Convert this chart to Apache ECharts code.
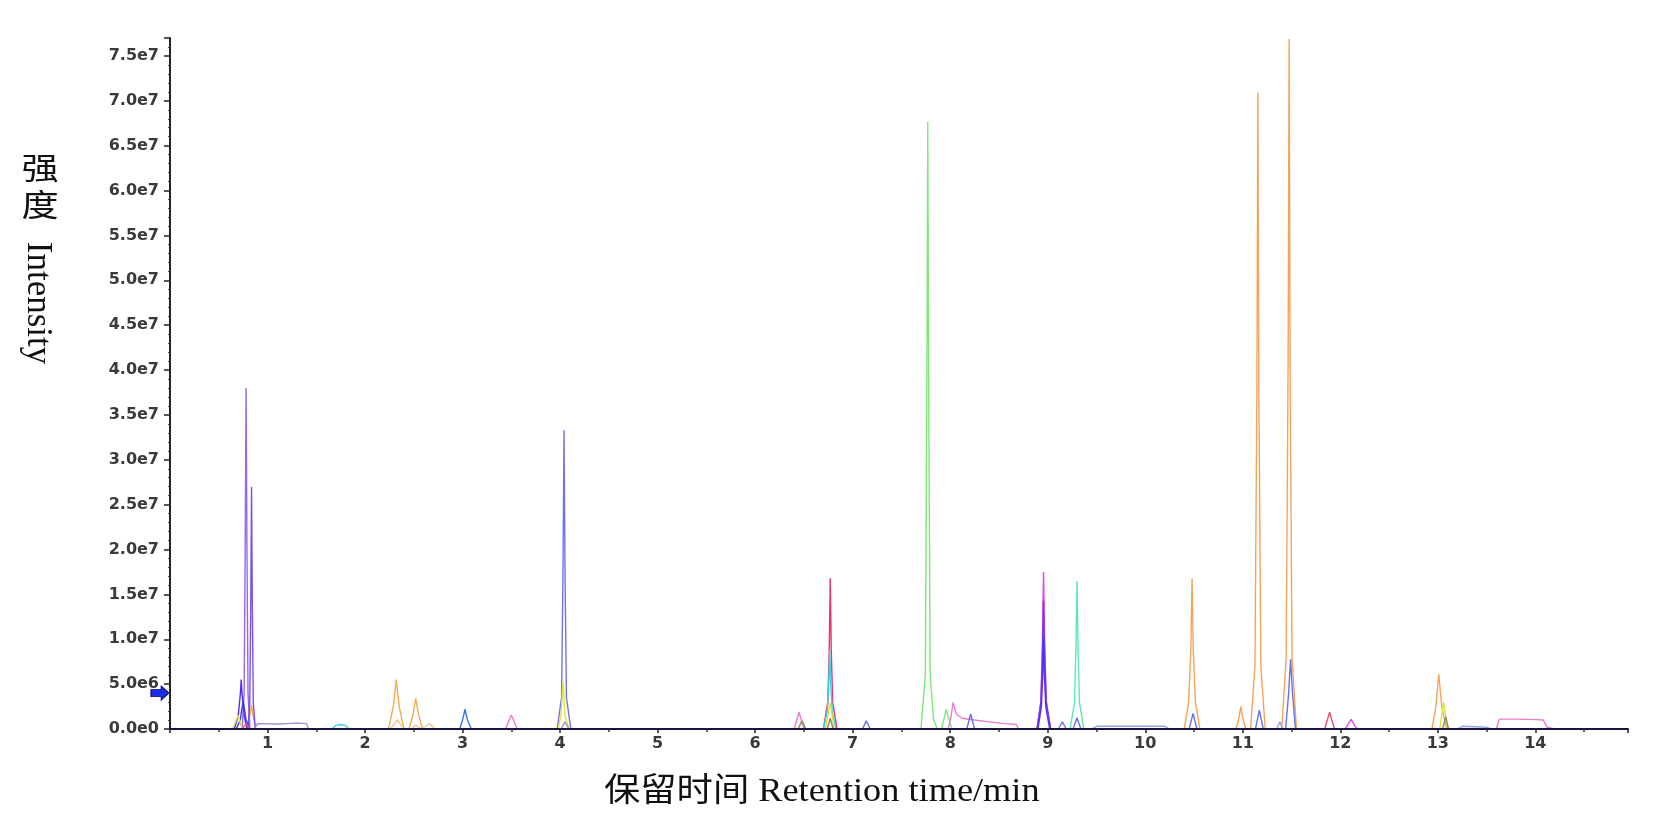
<!DOCTYPE html>
<html>
<head>
<meta charset="utf-8">
<script src="https://cdn.jsdelivr.net/npm/echarts@6/dist/echarts.min.js"></script>
<style>
html,body{margin:0;padding:0;background:#fff;}
#chart{width:1654px;height:819px;}
</style>
</head>
<body>
<div id="chart"></div>
<script>
// ---- data: retention time (min), intensity (counts) ----
const purpleA = [[0.74,0],[0.76,0.4e7],[0.771,2.0e7],[0.78,3.8e7],[0.789,2.0e7],[0.80,0.4e7],[0.82,0]];
const purpleB = [[0.80,0],[0.818,0.3e7],[0.828,1.4e7],[0.836,2.7e7],[0.844,1.4e7],[0.854,0.3e7],[0.875,0]];
const blueViolet = [[0.66,0],[0.70,1.5e6],[0.722,4.0e6],[0.73,5.5e6],[0.738,4.0e6],[0.76,1.5e6],[0.79,0],[8.90,0],[8.935,2.5e6],[8.948,6.0e6],[8.957,1.01e7],[8.966,6.0e6],[8.98,2.5e6],[9.02,0]];
const royalBlue = [[0.68,0],[0.72,1.0e6],[0.75,3.2e6],[0.78,1.0e6],[0.82,0]];
const slateBlue = [[3.97,0],[4.015,0.35e7],[4.03,1.8e7],[4.04,3.33e7],[4.05,1.8e7],[4.065,0.35e7],[4.11,0]];
const tanOrange = [[2.24,0],[2.29,2.5e6],[2.32,5.5e6],[2.35,2.5e6],[2.40,0],[2.45,0],[2.49,1.5e6],[2.52,3.4e6],[2.55,1.5e6],[2.59,0]];
const paleTan = [[2.26,0],[2.33,1.0e6],[2.40,0],[2.47,0],[2.52,0.4e6],[2.58,0],[2.60,0],[2.66,0.6e6],[2.72,0]];
const orange = [[0.79,0],[0.82,1.6e6],[0.835,2.7e6],[0.85,1.6e6],[0.88,0],[10.40,0],[10.445,0.3e7],[10.468,0.9e7],[10.48,1.68e7],[10.492,0.9e7],[10.515,0.3e7],[10.56,0],[10.93,0],[10.96,1.2e6],[10.98,2.5e6],[11.0,1.2e6],[11.03,0],[11.08,0],[11.125,0.7e7],[11.145,3.8e7],[11.155,7.09e7],[11.165,3.8e7],[11.185,0.7e7],[11.23,0],[11.40,0],[11.445,0.8e7],[11.465,4.1e7],[11.475,7.69e7],[11.485,4.1e7],[11.505,0.8e7],[11.55,0],[12.94,0],[12.98,2.5e6],[13.01,6.1e6],[13.04,2.5e6],[13.09,0]];
const green = [[7.70,0],[7.745,0.6e7],[7.76,3.6e7],[7.77,6.77e7],[7.78,3.6e7],[7.795,0.6e7],[7.83,1.0e6],[7.87,0],[7.91,0],[7.94,1.3e6],[7.96,2.2e6],[7.98,1.3e6],[8.02,0]];
const crimson = [[6.70,0],[6.745,0.3e7],[6.76,0.9e7],[6.77,1.68e7],[6.78,0.9e7],[6.795,0.3e7],[6.84,0]];
const cyan = [[1.66,0],[1.70,0.4e6],[1.75,0.5e6],[1.80,0.4e6],[1.84,0],[6.70,0],[6.74,2.0e6],[6.755,5.0e6],[6.765,8.8e6],[6.775,5.0e6],[6.79,2.0e6],[6.83,0]];
const magenta = [[8.89,0],[8.93,0.3e7],[8.946,1.0e7],[8.957,1.75e7],[8.968,1.0e7],[8.985,0.3e7],[9.03,0],[12.05,0],[12.11,1.08e6],[12.17,0]];
const violet = [[8.89,0],[8.93,0.3e7],[8.946,0.8e7],[8.957,1.43e7],[8.968,0.8e7],[8.985,0.3e7],[9.03,0]];
const aquamarine = [[9.23,0],[9.275,0.3e7],[9.29,0.95e7],[9.30,1.65e7],[9.31,0.95e7],[9.325,0.3e7],[9.37,0]];
const azure = [[2.97,0],[3.00,1.0e6],[3.025,2.2e6],[3.05,1.0e6],[3.09,0]];
const pink = [[3.44,0],[3.50,1.56e6],[3.56,0],[6.40,0],[6.45,1.86e6],[6.50,0],[7.98,0],[8.01,1.5e6],[8.03,2.97e6],[8.06,1.7e6],[8.12,1.2e6],[8.25,1.0e6],[8.40,0.8e6],[8.55,0.6e6],[8.68,0.5e6],[8.70,0],[13.60,0],[13.63,1.1e6],[13.80,1.1e6],[14.00,1.05e6],[14.08,1.0e6],[14.12,0.2e6],[14.20,0]];
const periwinkle = [[7.10,0],[7.14,0.9e6],[7.18,0],[8.17,0],[8.21,1.67e6],[8.25,0],[9.11,0],[9.15,0.8e6],[9.19,0],[9.26,0],[9.30,1.26e6],[9.34,0],[10.45,0],[10.49,1.75e6],[10.53,0],[11.13,0],[11.17,2.1e6],[11.21,0],[11.44,0],[11.47,4.0e6],[11.49,7.76e6],[11.51,4.0e6],[11.54,0]];
const red = [[0.74,0],[0.78,0.6e6],[0.82,0],[11.84,0],[11.89,1.86e6],[11.94,0]];
const yellow = [[0.64,0],[0.70,1.5e6],[0.74,0],[3.98,0],[4.01,1.5e6],[4.03,5.27e6],[4.05,1.5e6],[4.09,0],[6.72,0],[6.77,2.9e6],[6.81,0],[13.02,0],[13.06,3.0e6],[13.10,0]];
const olive = [[6.44,0],[6.48,0.9e6],[6.52,0],[6.74,0],[6.77,1.2e6],[6.80,0],[13.05,0],[13.08,1.37e6],[13.11,0]];
const lavender = [[0.86,0],[0.90,0.6e6],[1.10,0.55e6],[1.20,0.6e6],[1.30,0.65e6],[1.40,0.6e6],[1.42,0],[4.01,0],[4.05,0.8e6],[4.09,0]];
const skyBlue = [[9.45,0],[9.50,0.3e6],[10.20,0.3e6],[10.25,0],[11.35,0],[11.38,0.8e6],[11.41,0],[13.20,0],[13.25,0.3e6],[13.50,0.2e6],[13.55,0]];
const arrowMark = [[0, 4.0e6]];

const yTitleCn = '强度';
const yTitleEn = 'Intensity';
const xTitle = '保留时间 Retention time/min';

// ---- styles ----
const traces = [
  {name:'orange', data:orange, color:'#f6a35a'},
  {name:'green', data:green, color:'#7de87a'},
  {name:'purpleA', data:purpleA, color:'#9468f2'},
  {name:'purpleB', data:purpleB, color:'#7b50ee'},
  {name:'slateBlue', data:slateBlue, color:'#7272ee'},
  {name:'tanOrange', data:tanOrange, color:'#f1ac55'},
  {name:'paleTan', data:paleTan, color:'#f3c99c'},
  {name:'crimson', data:crimson, color:'#e83470'},
  {name:'cyan', data:cyan, color:'#35d6e2'},
  {name:'magenta', data:magenta, color:'#dc48ee'},
  {name:'violet', data:violet, color:'#7636ec'},
  {name:'blueViolet', data:blueViolet, color:'#5530ee'},
  {name:'royalBlue', data:royalBlue, color:'#3c3cf2'},
  {name:'aquamarine', data:aquamarine, color:'#5fe6b8'},
  {name:'azure', data:azure, color:'#3d74e6'},
  {name:'pink', data:pink, color:'#ec7ccc'},
  {name:'periwinkle', data:periwinkle, color:'#6a72e8'},
  {name:'red', data:red, color:'#f0506e'},
  {name:'yellow', data:yellow, color:'#e2e23e'},
  {name:'olive', data:olive, color:'#8c8c5c'},
  {name:'lavender', data:lavender, color:'#a08fd6'},
  {name:'skyBlue', data:skyBlue, color:'#8ea6f0'}
];

function sciLabel(v){
  if (v === 0) return '0.0e0';
  const e = Math.floor(Math.log10(v) + 1e-9);
  const m = v / Math.pow(10, e);
  return m.toFixed(1) + 'e' + e;
}

const series = traces.map(t => ({
  name: t.name, type: 'line', data: t.data, showSymbol: false, symbol: 'none',
  lineStyle: {color: t.color, width: 1.4}, itemStyle: {color: t.color},
  z: 2, silent: true
}));
series.push({
  name: 'marker', type: 'line', data: [], symbol: 'none', silent: true,
  markPoint: {
    silent: true,
    symbol: 'path://M0,3 L8,3 L8,0 L14,6 L8,12 L8,9 L0,9 Z',
    symbolSize: [18, 14],
    symbolOffset: [-10, 0],
    itemStyle: {color: '#1a2fe6', borderColor: '#0a0a80', borderWidth: 1},
    label: {show: false},
    data: arrowMark.map(p => ({coord: p}))
  }
});

const labelFont = 'DejaVu Sans, Liberation Sans, sans-serif';
const chart = echarts.init(document.getElementById('chart'), null, {renderer: 'canvas'});
chart.setOption({
  animation: false,
  backgroundColor: '#ffffff',
  grid: {left: 170, right: 26, top: 38, bottom: 90, containLabel: false},
  xAxis: {
    type: 'value', min: 0, max: 14.95, interval: 1, z: 5,
    axisLine: {show: true, onZero: false, lineStyle: {color: '#161640', width: 2}},
    axisTick: {show: true, inside: false, length: 4, lineStyle: {color: '#222', width: 1.5}},
    minorTick: {show: true, splitNumber: 2, length: 3, lineStyle: {color: '#333', width: 1.5}},
    splitLine: {show: false},
    axisLabel: {
      color: '#3a3a3a', fontFamily: labelFont, fontWeight: 'bold', fontSize: 16, margin: 7,
      showMaxLabel: false,
      formatter: v => (v === 0 ? '' : String(v))
    }
  },
  yAxis: {
    type: 'value', min: 0, max: 7.7e7, interval: 5e6, z: 5,
    axisLine: {show: true, lineStyle: {color: '#222', width: 2}},
    axisTick: {show: true, inside: false, length: 6, lineStyle: {color: '#222', width: 1.5}},
    minorTick: {show: true, splitNumber: 5, length: 2, lineStyle: {color: '#444', width: 1}},
    splitLine: {show: false},
    axisLabel: {
      color: '#3a3a3a', fontFamily: labelFont, fontWeight: 'bold', fontSize: 16, margin: 11,
      showMaxLabel: true,
      formatter: v => (v > 7.55e7 ? '' : sciLabel(v))
    }
  },
  graphic: [
    {type: 'text', x: 40, y: 171, scaleX: 1.2, style: {text: yTitleCn[0], font: '31px "Liberation Serif", "Noto Sans CJK SC", serif', fill: '#111', align: 'center', verticalAlign: 'middle'}},
    {type: 'text', x: 40, y: 208, scaleX: 1.2, style: {text: yTitleCn[1], font: '31px "Liberation Serif", "Noto Sans CJK SC", serif', fill: '#111', align: 'center', verticalAlign: 'middle'}},
    {type: 'text', x: 37, y: 303, rotation: -Math.PI / 2, style: {text: yTitleEn, font: '35px "Liberation Serif", "Times New Roman", serif', fill: '#111', align: 'center', verticalAlign: 'middle'}},
    {type: 'text', x: 604, y: 792, scaleX: 1.1, style: {text: xTitle, font: '33px "Liberation Serif", "Noto Sans CJK SC", serif', fill: '#111', align: 'left', verticalAlign: 'middle'}}
  ],
  series: series
});
</script>
</body>
</html>
